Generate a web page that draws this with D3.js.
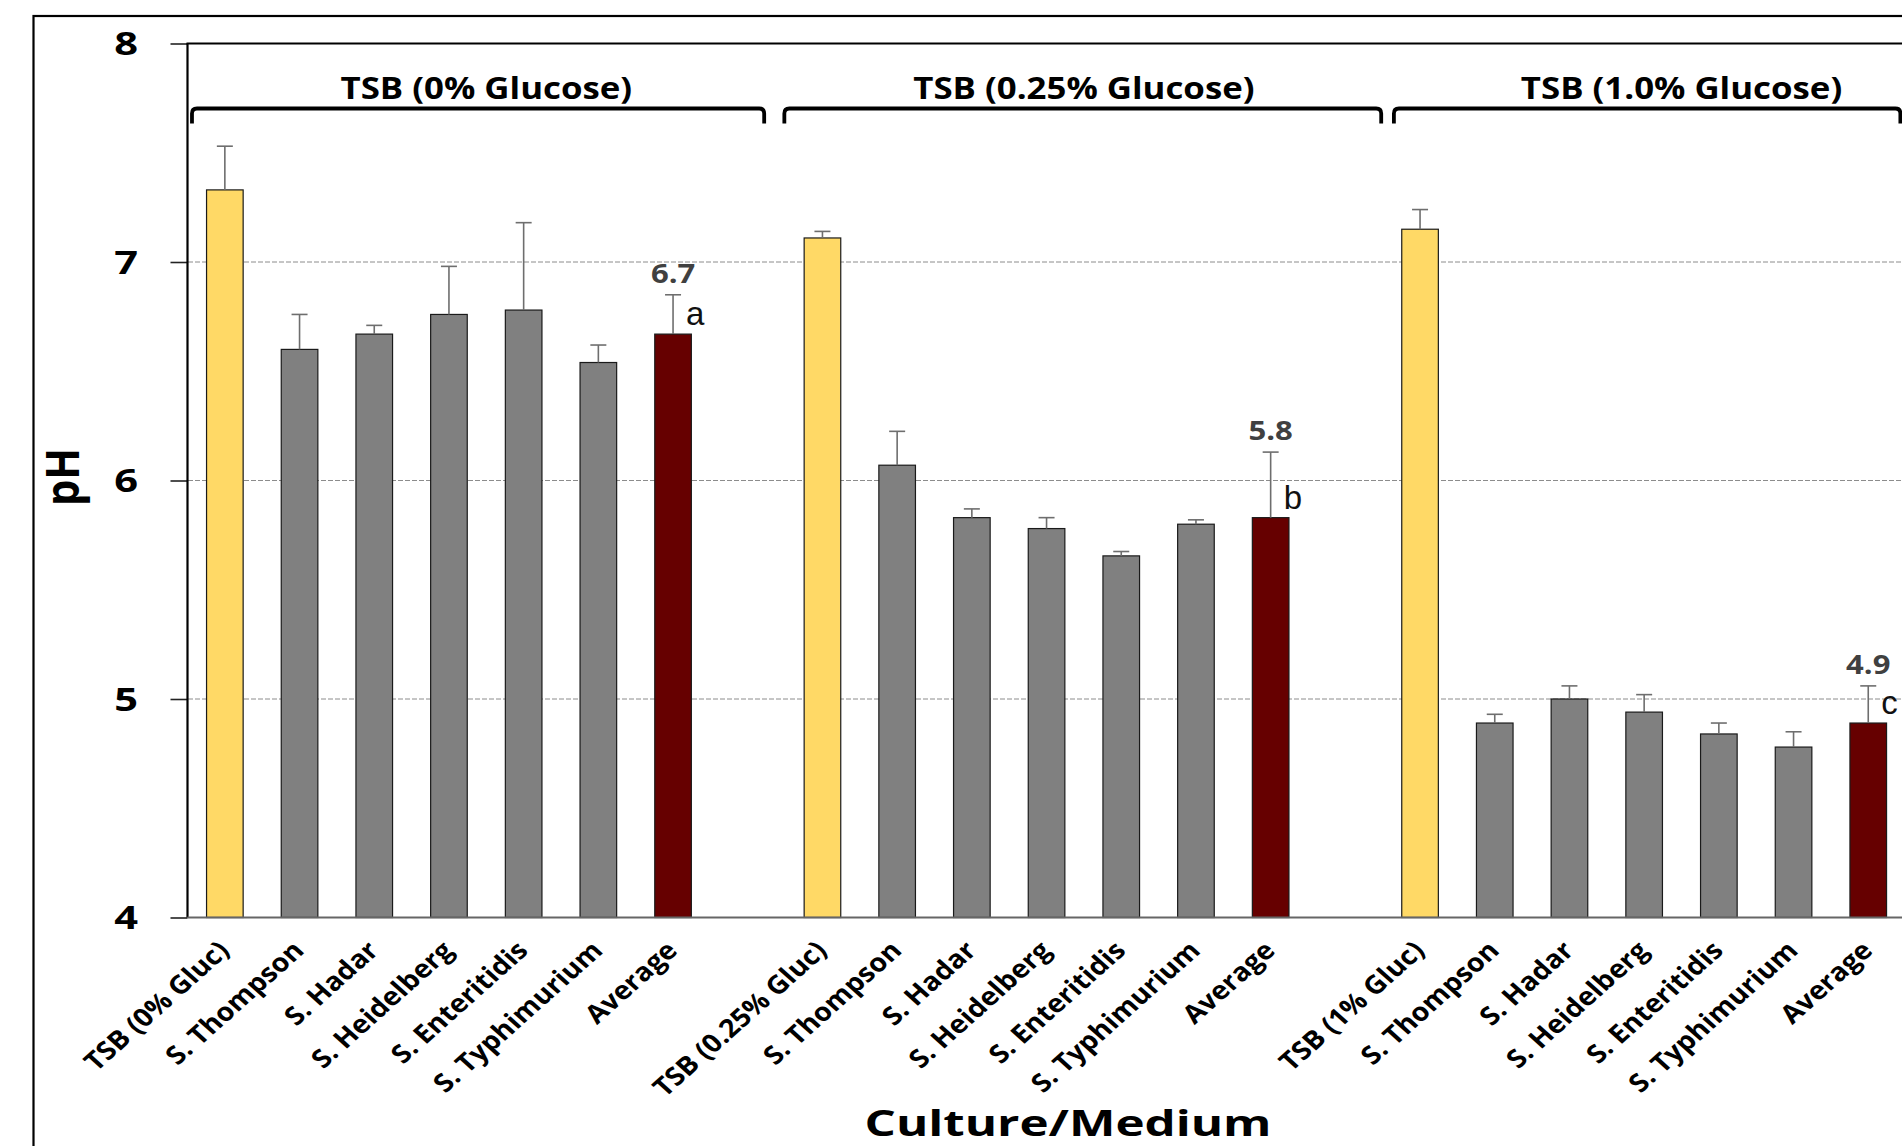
<!DOCTYPE html>
<html lang="en">
<head>
    <meta charset="utf-8">
    <title>pH by culture and medium</title>
    <script src="https://cdn.jsdelivr.net/npm/d3@7/dist/d3.min.js"></script>
    <style type="text/css">
        html, body { margin: 0; padding: 0; background: #fff; overflow: hidden; }
        svg { display: block; }
    </style>
</head>
<body>
<script type="text/javascript">

    // values
    var groupNames = ["TSB (0% Glucose)", "TSB (0.25% Glucose)", "TSB (1.0% Glucose)"];
    var categories = [
        "TSB (0% Gluc)", "S. Thompson", "S. Hadar", "S. Heidelberg", "S. Enteritidis", "S. Typhimurium", "Average",
        "TSB (0.25% Gluc)", "S. Thompson", "S. Hadar", "S. Heidelberg", "S. Enteritidis", "S. Typhimurium", "Average",
        "TSB (1% Gluc)", "S. Thompson", "S. Hadar", "S. Heidelberg", "S. Enteritidis", "S. Typhimurium", "Average"
    ];
    var phMeans = [
        7.33, 6.60, 6.67, 6.76, 6.78, 6.54, 6.67,
        7.11, 6.07, 5.83, 5.78, 5.655, 5.80, 5.83,
        7.15, 4.89, 5.00, 4.94, 4.84, 4.78, 4.89
    ];
    var phErrors = [
        0.20, 0.16, 0.04, 0.22, 0.40, 0.08, 0.18,
        0.03, 0.155, 0.04, 0.05, 0.02, 0.02, 0.30,
        0.09, 0.04, 0.06, 0.08, 0.05, 0.07, 0.17
    ];
    var averageLabels = ["6.7", "5.8", "4.9"];
    var averageLetters = ["a", "b", "c"];
    var yTicks = [4, 5, 6, 7, 8];

    var width = 1902, height = 1146;
    var perGroup = 7;
    var slotCount = groupNames.length * (perGroup + 1) - 1;   // one empty slot between groups
    var font = "'Open Sans', sans-serif";

    var svg = d3.select("body").append("svg")
        .attr("width", width)
        .attr("height", height);

    var x = d3.scaleBand()
        .domain(d3.range(slotCount))
        .range([187.5, 187.5 + slotCount * 74.7])
        .paddingInner(0.51)
        .paddingOuter(0.255);

    var y = d3.scaleLinear()
        .domain([4, 8])
        .range([917.5, 43.5]);

    function slotOf(i) {
        return Math.floor(i / perGroup) * (perGroup + 1) + (i % perGroup);
    }
    function center(i) {
        return x(slotOf(i)) + x.bandwidth() / 2;
    }
    function barColor(label) {
        if (label.indexOf("TSB") === 0) return "#FFD966";
        if (label === "Average") return "#660000";
        return "#808080";
    }
    // the original figure was stretched sideways, so texts are widened a little
    function place(px, py, k, rot) {
        return "translate(" + px + "," + py + ") scale(" + k + ",1)" + (rot ? " rotate(" + rot + ")" : "");
    }

    var rows = categories.map(function (c, i) {
        return {label: c, mean: phMeans[i], err: phErrors[i], i: i};
    });

    // outer frame (runs off the page on the right and bottom)
    svg.append("rect")
        .attr("x", 33.5).attr("y", 16)
        .attr("width", 2000).attr("height", 2000)
        .attr("fill", "none")
        .attr("stroke", "#000")
        .attr("stroke-width", 2.2);

    // grid
    svg.append("g")
        .selectAll("line")
        .data(yTicks.filter(function (t) { return t > 4 && t < 8; }))
        .enter().append("line")
        .attr("x1", 188).attr("x2", width)
        .attr("y1", function (d) { return y(d); })
        .attr("y2", function (d) { return y(d); })
        .attr("stroke", "#8c8c8c")
        .attr("stroke-width", 1)
        .attr("stroke-dasharray", "5,2");

    // y axis: ticks from d3, labels drawn wide
    var yAxis = svg.append("g")
        .attr("transform", "translate(187.5,0)")
        .call(d3.axisLeft(y).tickValues(yTicks).tickSize(17).tickFormat(""));
    yAxis.select(".domain").remove();
    yAxis.selectAll(".tick line").attr("stroke", "#222").attr("stroke-width", 1.6);

    svg.append("g")
        .selectAll("text")
        .data(yTicks)
        .enter().append("text")
        .attr("transform", function (d) { return place(138, y(d), 1.3); })
        .attr("dy", "0.36em")
        .attr("text-anchor", "end")
        .attr("font-family", font)
        .attr("font-weight", 700)
        .attr("font-size", "32px")
        .attr("fill", "#000")
        .text(function (d) { return d; });

    // plot frame: left and top black, bottom grey
    svg.append("line")
        .attr("x1", 187.5).attr("x2", 187.5)
        .attr("y1", y(8)).attr("y2", y(4))
        .attr("stroke", "#000").attr("stroke-width", 2.2);
    svg.append("line")
        .attr("x1", 186.5).attr("x2", width)
        .attr("y1", y(8)).attr("y2", y(8))
        .attr("stroke", "#000").attr("stroke-width", 2.2);

    // bars
    svg.append("g")
        .selectAll("rect")
        .data(rows)
        .enter().append("rect")
        .attr("x", function (d) { return x(slotOf(d.i)); })
        .attr("width", x.bandwidth())
        .attr("y", function (d) { return y(d.mean); })
        .attr("height", function (d) { return y(4) - y(d.mean); })
        .attr("fill", function (d) { return barColor(d.label); })
        .attr("stroke", "#1a1a1a")
        .attr("stroke-width", 1.2);

    svg.append("line")
        .attr("x1", 187.5).attr("x2", width)
        .attr("y1", y(4)).attr("y2", y(4))
        .attr("stroke", "#666").attr("stroke-width", 2);

    // error bars (upper only)
    var eb = svg.append("g")
        .selectAll("g")
        .data(rows)
        .enter().append("g");
    eb.append("line")
        .attr("x1", function (d) { return center(d.i); })
        .attr("x2", function (d) { return center(d.i); })
        .attr("y1", function (d) { return y(d.mean); })
        .attr("y2", function (d) { return y(d.mean + d.err); })
        .attr("stroke", "#6e6e6e").attr("stroke-width", 1.6);
    eb.append("line")
        .attr("x1", function (d) { return center(d.i) - 8; })
        .attr("x2", function (d) { return center(d.i) + 8; })
        .attr("y1", function (d) { return y(d.mean + d.err); })
        .attr("y2", function (d) { return y(d.mean + d.err); })
        .attr("stroke", "#6e6e6e").attr("stroke-width", 1.6);

    // average value labels and letters
    var avgRows = rows.filter(function (d) { return d.label === "Average"; });
    svg.append("g")
        .selectAll("text")
        .data(avgRows)
        .enter().append("text")
        .attr("transform", function (d) { return place(center(d.i), y(d.mean + d.err) - 12, 1.15); })
        .attr("text-anchor", "middle")
        .attr("font-family", font)
        .attr("font-weight", 700)
        .attr("font-size", "27px")
        .attr("fill", "#404040")
        .text(function (d, k) { return averageLabels[k]; });
    svg.append("g")
        .selectAll("text")
        .data(avgRows)
        .enter().append("text")
        .attr("x", function (d) { return center(d.i) + 13; })
        .attr("y", function (d) { return y(d.mean) - 9; })
        .attr("font-family", "'Liberation Sans', Arial, sans-serif")
        .attr("font-size", "33px")
        .attr("fill", "#111")
        .text(function (d, k) { return averageLetters[k]; });

    // group brackets with titles
    var bracketSpans = [[0.06, 7.72], [7.99, 15.98], [16.15, 22.93]];
    var slotX = d3.scaleLinear().domain([0, slotCount]).range(x.range());
    var bracketY = 108.5, hook = 15, r = 5;
    var br = svg.append("g");
    bracketSpans.forEach(function (s, g) {
        var a = slotX(s[0]), b = slotX(s[1]);
        var p = d3.path();
        p.moveTo(a, bracketY + hook);
        p.lineTo(a, bracketY + r);
        p.quadraticCurveTo(a, bracketY, a + r, bracketY);
        p.lineTo(b - r, bracketY);
        p.quadraticCurveTo(b, bracketY, b, bracketY + r);
        p.lineTo(b, bracketY + hook);
        br.append("path")
            .attr("d", p.toString())
            .attr("fill", "none")
            .attr("stroke", "#000")
            .attr("stroke-width", 3.8);
        br.append("text")
            .attr("transform", place(slotX(g * (perGroup + 1) + 4), 99, 1.18))
            .attr("text-anchor", "middle")
            .attr("font-family", font)
            .attr("font-weight", 700)
            .attr("font-size", "29.5px")
            .attr("fill", "#000")
            .text(groupNames[g]);
    });

    // slanted category labels
    svg.append("g")
        .selectAll("text")
        .data(rows)
        .enter().append("text")
        .attr("transform", function (d) { return place(center(d.i) + 6, 952, 1.12, -45); })
        .attr("text-anchor", "end")
        .attr("font-family", font)
        .attr("font-weight", 700)
        .attr("font-size", "25.5px")
        .attr("fill", "#000")
        .text(function (d) { return d.label; });

    // axis titles
    svg.append("text")
        .attr("transform", place(79, 477, 1.13, -90))
        .attr("text-anchor", "middle")
        .attr("font-family", font)
        .attr("font-weight", 700)
        .attr("font-size", "41.5px")
        .attr("fill", "#000")
        .text("pH");

    svg.append("text")
        .attr("transform", place(1068, 1136, 1.35))
        .attr("text-anchor", "middle")
        .attr("font-family", font)
        .attr("font-weight", 700)
        .attr("font-size", "36.5px")
        .attr("fill", "#000")
        .text("Culture/Medium");

</script>
</body>
</html>
